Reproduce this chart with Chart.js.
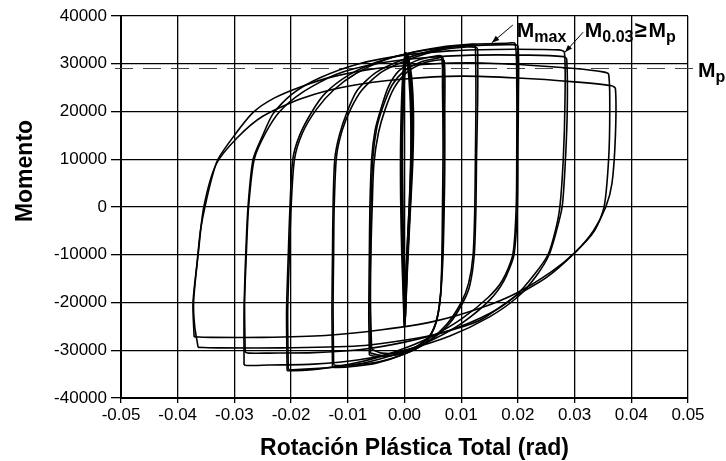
<!DOCTYPE html>
<html lang="es">
<head>
<meta charset="utf-8">
<title>Momento vs Rotación Plástica Total</title>
<script src="https://cdn.jsdelivr.net/npm/chart.js@4.4.1/dist/chart.umd.min.js"></script>
<style>
  html, body { margin: 0; padding: 0; background: #ffffff; }
  #contenedor { width: 726px; height: 461px; }
</style>
</head>
<body>
<div id="contenedor"><canvas id="graficaHisteresis"></canvas></div>
<script>
/* ============================================================
   Curva de histéresis: Momento vs Rotación Plástica Total
   Cada lazo se guarda como pares [rotación (rad), momento].
   ============================================================ */

const ticksRotacion = [-0.05, -0.04, -0.03, -0.02, -0.01, 0, 0.01, 0.02, 0.03, 0.04, 0.05];
const ticksMomento = [-40000, -30000, -20000, -10000, 0, 10000, 20000, 30000, 40000];
const momentoPlastico = 29000;

// ciclos elásticos (casi verticales en 0)
const lazoElasticoA = [
  [0.0000, -24300], [0.0003, -15000], [0.0007, -5000], [0.0011, 5000], [0.0013, 15000],
  [0.0012, 24000], [0.0007, 30500], [0.0003, 31800], [-0.0001, 28000], [-0.0004, 18000],
  [-0.0004, 5000], [-0.0003, -8000], [-0.0001, -18000], [0.0000, -24300]
];
const lazoElasticoB = [
  [0.0001, -23000], [0.0004, -12000], [0.0009, 0], [0.0012, 12000], [0.0011, 22000],
  [0.0006, 30000], [0.0002, 31000], [-0.0002, 24000], [-0.0005, 12000], [-0.0004, 0],
  [-0.0002, -12000], [0.0001, -23000]
];
const lazoElasticoC = [
  [0.0000, -25000], [0.0004, -14000], [0.0009, -2000], [0.0014, 10000], [0.0015, 20000],
  [0.0012, 27000], [0.0006, 31500], [0.0002, 32200], [-0.0003, 26000], [-0.0006, 14000],
  [-0.0006, 2000], [-0.0004, -10000], [-0.0001, -20000], [0.0000, -25000]
];

// ciclos de ±0.0065 rad
const lazo065a = [
  [-0.0062, -31000], [-0.0063, -22000], [-0.0062, -10000], [-0.0061, 0], [-0.0058, 10000],
  [-0.0052, 16000], [-0.0043, 20000], [-0.0029, 25000], [-0.0010, 28500], [0.0020, 30600],
  [0.0050, 31500], [0.0065, 31600], [0.0067, 25000], [0.0068, 12000], [0.0067, 0],
  [0.0066, -10000], [0.0064, -18000], [0.0058, -23000], [0.0045, -27000], [0.0020, -29500],
  [-0.0010, -30800], [-0.0040, -31300], [-0.0055, -31200], [-0.0062, -31000]
];
const lazo065b = [
  [-0.0060, -30600], [-0.0061, -20000], [-0.0060, -10000], [-0.0059, 0], [-0.0056, 10000],
  [-0.0049, 16500], [-0.0038, 21000], [-0.0022, 25500], [0.0000, 28500], [0.0030, 30400],
  [0.0055, 31100], [0.0068, 31200], [0.0069, 22000], [0.0070, 10000], [0.0069, 0],
  [0.0067, -10000], [0.0063, -19000], [0.0055, -24500], [0.0040, -28000], [0.0015, -30000],
  [-0.0015, -31000], [-0.0040, -31100], [-0.0060, -30600]
];
const lazo065c = [
  [-0.0058, -29800], [-0.0060, -20000], [-0.0059, -8000], [-0.0057, 0], [-0.0054, 9000],
  [-0.0046, 15500], [-0.0034, 20500], [-0.0018, 25000], [0.0005, 28300], [0.0035, 30200],
  [0.0060, 30800], [0.0070, 30600], [0.0071, 20000], [0.0071, 8000], [0.0070, 0],
  [0.0068, -10000], [0.0064, -18000], [0.0057, -23500], [0.0044, -27000], [0.0020, -29300],
  [-0.0010, -30500], [-0.0040, -30600], [-0.0058, -29800]
];

// ciclos de ±0.0125 rad
const lazo125a = [
  [-0.0127, -33500], [-0.0128, -22000], [-0.0127, -10000], [-0.0126, 0], [-0.0123, 10000],
  [-0.0115, 15000], [-0.0101, 20000], [-0.0083, 24500], [-0.0050, 28200], [0.0000, 31000],
  [0.0050, 32800], [0.0100, 33800], [0.0122, 34000], [0.0125, 33500], [0.0126, 22000],
  [0.0125, 10000], [0.0124, 0], [0.0121, -10000], [0.0113, -16000], [0.0100, -20000],
  [0.0075, -24500], [0.0040, -28300], [0.0000, -30800], [-0.0050, -32700], [-0.0100, -33500],
  [-0.0125, -33600], [-0.0127, -33500]
];
const lazo125b = [
  [-0.0125, -33000], [-0.0126, -21000], [-0.0125, -10000], [-0.0124, 0], [-0.0120, 10500],
  [-0.0110, 16000], [-0.0095, 20500], [-0.0075, 24500], [-0.0040, 28300], [0.0010, 31000],
  [0.0060, 32800], [0.0110, 33500], [0.0127, 33400], [0.0129, 32800], [0.0129, 22000],
  [0.0127, 10000], [0.0126, 0], [0.0123, -10000], [0.0115, -16500], [0.0103, -20000],
  [0.0080, -24300], [0.0045, -28000], [0.0005, -30500], [-0.0045, -32400], [-0.0095, -33100],
  [-0.0120, -33200], [-0.0125, -33000]
];

// ciclos de ±0.02 rad
const lazo200a = [
  [-0.0207, -34300], [-0.0208, -22000], [-0.0205, -10000], [-0.0202, 0], [-0.0197, 10000],
  [-0.0185, 15000], [-0.0163, 20000], [-0.0140, 23800], [-0.0100, 27500], [-0.0050, 30300],
  [0.0000, 32000], [0.0060, 33400], [0.0120, 34100], [0.0180, 34300], [0.0195, 34200],
  [0.0198, 25000], [0.0198, 12000], [0.0197, 0], [0.0191, -10000], [0.0172, -15500],
  [0.0147, -19000], [0.0100, -23500], [0.0050, -27000], [0.0000, -29600], [-0.0050, -31600],
  [-0.0100, -33000], [-0.0150, -33900], [-0.0195, -34300], [-0.0207, -34300]
];
const lazo200b = [
  [-0.0205, -34000], [-0.0206, -22000], [-0.0203, -10000], [-0.0200, 0], [-0.0194, 10000],
  [-0.0180, 15500], [-0.0155, 20500], [-0.0125, 24500], [-0.0085, 28000], [-0.0035, 30800],
  [0.0020, 32500], [0.0080, 33500], [0.0140, 33900], [0.0190, 34000], [0.0200, 33700],
  [0.0201, 24000], [0.0200, 12000], [0.0199, 0], [0.0193, -10000], [0.0175, -15500],
  [0.0150, -19500], [0.0105, -24000], [0.0055, -27500], [0.0005, -30000], [-0.0045, -31900],
  [-0.0095, -33200], [-0.0150, -33800], [-0.0198, -34100], [-0.0205, -34000]
];

// ciclos de ±0.028 rad
const lazo280a = [
  [-0.0283, -33100], [-0.0283, -22000], [-0.0280, -10000], [-0.0276, 0], [-0.0267, 10000],
  [-0.0250, 15000], [-0.0232, 19500], [-0.0200, 23500], [-0.0150, 27000], [-0.0080, 30000],
  [0.0000, 31800], [0.0080, 32700], [0.0160, 33000], [0.0240, 33000], [0.0272, 32900],
  [0.0282, 32400], [0.0283, 22000], [0.0280, 10000], [0.0274, 0], [0.0266, -5000],
  [0.0253, -10000], [0.0230, -14000], [0.0197, -18500], [0.0150, -22300], [0.0080, -25800],
  [0.0000, -28300], [-0.0080, -29900], [-0.0160, -30500], [-0.0240, -30600], [-0.0275, -30600],
  [-0.0281, -30400]
];
const lazo280b = [
  [-0.0281, -30400], [-0.0282, -20000], [-0.0279, -10000], [-0.0275, 0], [-0.0265, 10000],
  [-0.0245, 15500], [-0.0220, 20000], [-0.0180, 24000], [-0.0120, 27800], [-0.0050, 30000],
  [0.0030, 31200], [0.0120, 31800], [0.0220, 31800], [0.0280, 31500], [0.0286, 31000],
  [0.0287, 20000], [0.0283, 8000], [0.0278, 0], [0.0268, -5000], [0.0255, -10000],
  [0.0232, -14500], [0.0200, -18800], [0.0150, -23000], [0.0080, -27000], [0.0000, -30000],
  [-0.0080, -32000], [-0.0160, -32900], [-0.0240, -33100], [-0.0276, -33200], [-0.0283, -33100]
];

// ciclos de ±0.037 rad
const lazo370a = [
  [-0.0364, -29400], [-0.0370, -25000], [-0.0372, -20000], [-0.0366, -12000], [-0.0360, -5000],
  [-0.0352, 0], [-0.0340, 6000], [-0.0329, 10000], [-0.0300, 15000], [-0.0267, 19800],
  [-0.0230, 22800], [-0.0180, 25300], [-0.0126, 27300], [-0.0050, 29000], [0.0040, 29900],
  [0.0120, 30200], [0.0220, 29700], [0.0300, 29000], [0.0350, 28300], [0.0360, 27800],
  [0.0362, 20000], [0.0360, 10000], [0.0352, 0], [0.0335, -5000], [0.0301, -9500],
  [0.0260, -13500], [0.0198, -18000], [0.0133, -21200], [0.0050, -24000], [-0.0040, -25700],
  [-0.0140, -26900], [-0.0250, -27300], [-0.0340, -27300], [-0.0371, -27200]
];
const lazo370b = [
  [-0.0371, -27200], [-0.0373, -20000], [-0.0364, -10000], [-0.0354, 0], [-0.0332, 9000],
  [-0.0295, 14500], [-0.0250, 19000], [-0.0180, 22800], [-0.0100, 25300], [0.0000, 26800],
  [0.0100, 27400], [0.0200, 27000], [0.0300, 26200], [0.0365, 25400], [0.0372, 24800],
  [0.0372, 15000], [0.0366, 5000], [0.0355, 0], [0.0333, -5000], [0.0301, -9500],
  [0.0250, -14800], [0.0198, -18500], [0.0133, -23700], [0.0050, -26800], [-0.0070, -29000],
  [-0.0220, -29500], [-0.0330, -29500], [-0.0364, -29400]
];

const lazosDelgados = [lazo065a, lazo065b, lazo065c, lazo125a, lazo125b, lazo200a, lazo200b,
  lazo280a, lazo280b, lazo370a, lazo370b];
const lazosElasticos = [lazoElasticoA, lazoElasticoB, lazoElasticoC];

const FAMILIA = '"Liberation Sans", Arial, Helvetica, sans-serif';

/**
 * Convierte pares [x, y] en puntos para Chart.js.
 */
function aPuntos(lazo) {
  return lazo.map(([x, y]) => ({ x: x, y: y }));
}

function crearDataset(lazo, grosor) {
  return {
    data: aPuntos(lazo),
    showLine: true,
    borderColor: '#000000',
    borderWidth: grosor,
    pointRadius: 0,
    tension: 0.25,
    fill: false
  };
}

/**
 * Dibuja un texto con partes en subíndice, una tras otra.
 */
function textoCompuesto(ctx, partes, x, y) {
  let cursor = x;
  partes.forEach(p => {
    cursor += p.antes || 0;
    ctx.font = `bold ${p.tam}px ${FAMILIA}`;
    ctx.fillText(p.texto, cursor, y + (p.sub ? 5 : 0));
    cursor += ctx.measureText(p.texto).width + (p.despues || 0);
  });
}

function flecha(ctx, x1, y1, x2, y2) {
  const ang = Math.atan2(y2 - y1, x2 - x1);
  ctx.beginPath();
  ctx.moveTo(x1, y1);
  ctx.lineTo(x2, y2);
  ctx.stroke();
  ctx.beginPath();
  ctx.moveTo(x2, y2);
  ctx.lineTo(x2 - 8 * Math.cos(ang - 0.35), y2 - 8 * Math.sin(ang - 0.35));
  ctx.lineTo(x2 - 8 * Math.cos(ang + 0.35), y2 - 8 * Math.sin(ang + 0.35));
  ctx.closePath();
  ctx.fill();
}

const pluginAnotaciones = {
  id: 'anotaciones',
  beforeDatasetsDraw(chart) {
    const { ctx, chartArea, scales } = chart;
    const yMp = scales.y.getPixelForValue(momentoPlastico);
    ctx.save();
    ctx.strokeStyle = '#444444';
    ctx.lineWidth = 1;
    ctx.setLineDash([18, 10]);
    ctx.beginPath();
    ctx.moveTo(chartArea.left - 6, yMp);
    ctx.lineTo(chartArea.right + 5, yMp);
    ctx.stroke();
    ctx.restore();
  },
  afterDatasetsDraw(chart) {
    const { ctx, chartArea, scales } = chart;
    const px = v => scales.x.getPixelForValue(v);
    const py = v => scales.y.getPixelForValue(v);
    ctx.save();
    ctx.fillStyle = '#000000';
    ctx.strokeStyle = '#000000';
    ctx.lineWidth = 1;
    ctx.textBaseline = 'alphabetic';
    ctx.textAlign = 'left';

    // Mmax y M0.03 >= Mp
    textoCompuesto(ctx, [{ texto: 'M', tam: 21 }, { texto: 'max', tam: 16, sub: true }],
      px(0.0198), py(35600));
    flecha(ctx, px(0.0191), py(38100), px(0.0154), py(34400));
    textoCompuesto(ctx, [
      { texto: 'M', tam: 21 }, { texto: '0.03', tam: 16, sub: true },
      { texto: '≥', tam: 22, antes: 1, despues: 2 }, { texto: 'M', tam: 21 },
      { texto: 'p', tam: 16, sub: true }
    ], px(0.0318), py(35600));
    flecha(ctx, px(0.0315), py(36600), px(0.0283), py(32400));

    // Mp a la derecha del gráfico
    textoCompuesto(ctx, [{ texto: 'M', tam: 21 }, { texto: 'p', tam: 16, sub: true }],
      chartArea.right + 10, py(momentoPlastico) + 8);

    // títulos de los ejes
    ctx.font = `bold 23px ${FAMILIA}`;
    ctx.textAlign = 'center';
    ctx.fillText('Rotación Plástica Total (rad)', (chartArea.left + chartArea.right) / 2 + 10,
      chartArea.bottom + 57);
    ctx.translate(32, (chartArea.top + chartArea.bottom) / 2 - 36);
    ctx.rotate(-Math.PI / 2);
    ctx.fillText('Momento', 0, 0);
    ctx.restore();
  }
};

function dibujarHisteresis() {
  const canvas = document.getElementById('graficaHisteresis');
  const fuenteTicks = { family: FAMILIA, size: 17 };

  const datasets = lazosDelgados.map(l => crearDataset(l, 1.6))
    .concat(lazosElasticos.map(l => crearDataset(l, 2.5)));

  new Chart(canvas, {
    type: 'scatter',
    data: { datasets: datasets },
    options: {
      responsive: true,
      maintainAspectRatio: false,
      devicePixelRatio: 1,
      animation: false,
      events: [],
      layout: { padding: { left: 0, right: 38, top: 16, bottom: 0 } },
      plugins: {
        legend: { display: false },
        tooltip: { enabled: false }
      },
      scales: {
        x: {
          type: 'linear',
          min: ticksRotacion[0],
          max: ticksRotacion[ticksRotacion.length - 1],
          afterBuildTicks: s => { s.ticks = ticksRotacion.map(v => ({ value: v })); },
          afterFit: s => { s.height = 63; },
          grid: { color: '#000000', lineWidth: 1.3, tickLength: 5 },
          border: { color: '#000000', width: 2 },
          ticks: {
            color: '#000000', font: fuenteTicks, padding: 2, maxRotation: 0, autoSkip: false,
            callback: v => Number(v).toFixed(2)
          }
        },
        y: {
          min: ticksMomento[0],
          max: ticksMomento[ticksMomento.length - 1],
          afterBuildTicks: s => { s.ticks = ticksMomento.map(v => ({ value: v })); },
          afterFit: s => { s.width = 121; },
          grid: { color: '#000000', lineWidth: 1.3, tickLength: 10 },
          border: { color: '#000000', width: 2 },
          ticks: {
            color: '#000000', font: fuenteTicks, padding: 4, autoSkip: false,
            callback: v => String(v)
          }
        }
      }
    },
    plugins: [pluginAnotaciones]
  });
}

dibujarHisteresis();
</script>
</body>
</html>
